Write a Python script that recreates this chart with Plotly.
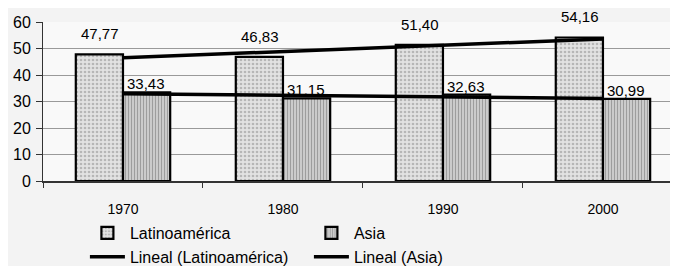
import numpy as np
import plotly.graph_objects as go

years = ["1970", "1980", "1990", "2000"]
latin = [47.77, 46.83, 51.40, 54.16]
asia = [33.43, 31.15, 32.63, 30.99]
y_ticks = [0, 10, 20, 30, 40, 50, 60]

FONT = "Liberation Sans, Arial, sans-serif"

def trend(vals):
    xs = np.arange(len(vals))
    m, b = np.polyfit(xs, vals, 1)
    return list(m * xs + b)

def fmt(v):
    return f"{v:.2f}".replace(".", ",")

fig = go.Figure()
fig.add_bar(x=years, y=latin, name="Latinoamérica", offsetgroup="a",
            marker=dict(color="#dcdcdc", line=dict(color="black", width=2.2),
                        pattern=dict(shape=".", fgcolor="#8a8a8a", bgcolor="#e2e2e2",
                                     size=4, solidity=0.35)))
fig.add_bar(x=years, y=asia, name="Asia", offsetgroup="b",
            marker=dict(color="#c8c8c8", line=dict(color="black", width=2.2),
                        pattern=dict(shape="|", fgcolor="#6a6a6a", bgcolor="#d0d0d0",
                                     size=3, solidity=0.4)))
fig.add_scatter(x=years, y=trend(latin), mode="lines", name="Lineal (Latinoamérica)",
                line=dict(color="black", width=3.5))
fig.add_scatter(x=years, y=trend(asia), mode="lines", name="Lineal (Asia)",
                line=dict(color="black", width=3.5))

for i, yr in enumerate(years):
    fig.add_annotation(x=i, y=latin[i], xref="x", yref="y", text=fmt(latin[i]),
                       showarrow=False, xshift=-23, yanchor="bottom", yshift=10,
                       font=dict(family=FONT, size=15, color="black"))
    fig.add_annotation(x=i, y=asia[i], xref="x", yref="y", text=fmt(asia[i]),
                       showarrow=False, xshift=23, yanchor="bottom", yshift=-2,
                       font=dict(family=FONT, size=15, color="black"))

fig.update_layout(
    width=670, height=258,
    margin=dict(l=35, r=0, t=14, b=85, autoexpand=False),
    paper_bgcolor="#f3f3f3", plot_bgcolor="#f9f9f9",
    barmode="group", bargap=0.41, bargroupgap=0,
    font=dict(family=FONT, size=14, color="black"),
    showlegend=True,
    legend=dict(orientation="h", x=0.066, xanchor="left", y=-0.22, yanchor="top",
                entrywidth=174, entrywidthmode="pixels", bgcolor="rgba(0,0,0,0)",
                font=dict(family=FONT, size=16), tracegroupgap=0, itemwidth=35),
)
fig.update_xaxes(range=[-0.5, 3.469], tickson="boundaries", ticks="outside", ticklen=5,
                 tickcolor="#333", showline=True, linecolor="#333", linewidth=1.5,
                 showgrid=False, ticklabelstandoff=14, tickfont=dict(size=14))
fig.update_yaxes(range=[0, 60], tickvals=y_ticks, ticks="outside", ticklen=6,
                 tickcolor="#333", showline=True, linecolor="#333", linewidth=1,
                 gridcolor="#9a9a9a", gridwidth=1, zeroline=False,
                 tickfont=dict(size=16), ticklabelstandoff=2)

fig.write_html("out.html")
